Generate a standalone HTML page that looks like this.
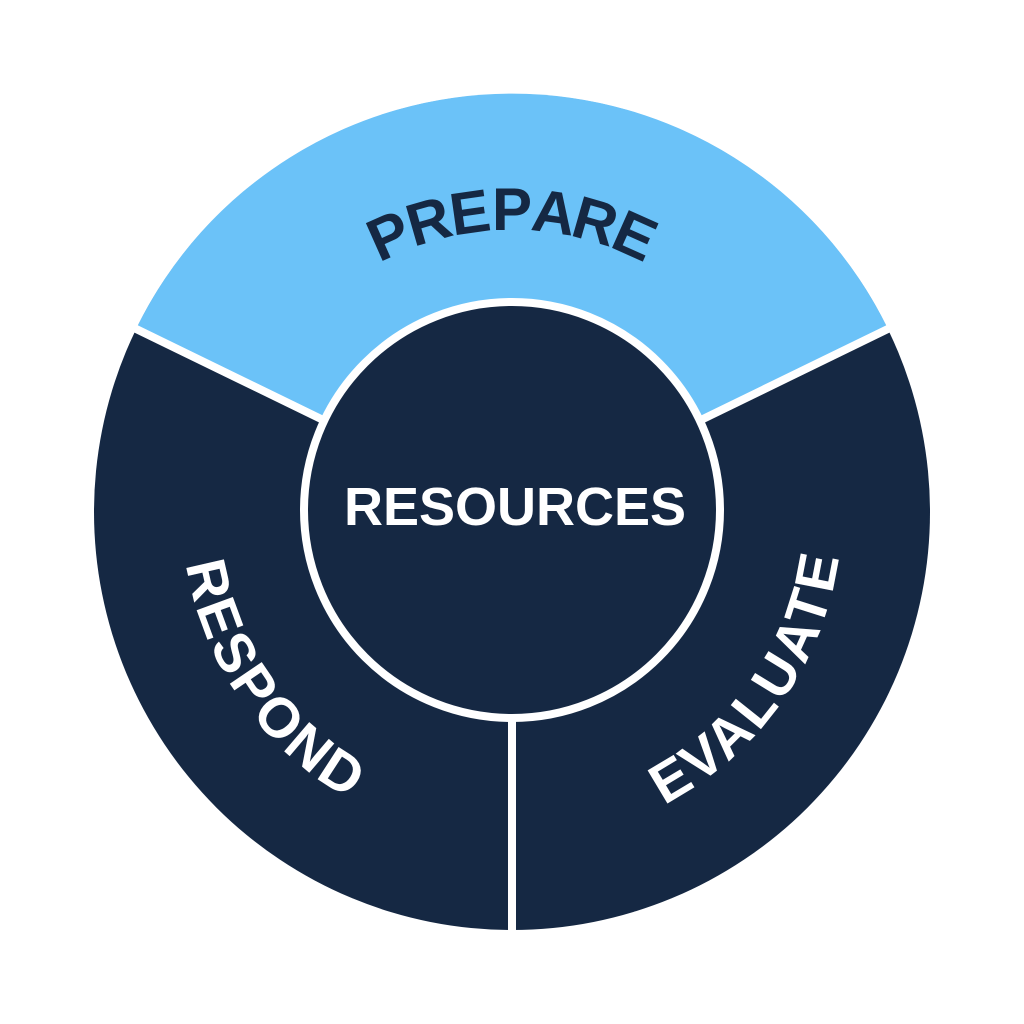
<!DOCTYPE html>
<html><head><meta charset="utf-8"><style>
html,body{margin:0;padding:0;background:#fff;}
svg{display:block;}
text{font-family:"Liberation Sans",sans-serif;font-weight:bold;}
</style></head><body>
<svg width="1024" height="1024" viewBox="0 0 1024 1024" xmlns="http://www.w3.org/2000/svg">
<rect width="1024" height="1024" fill="#fff"/>
<circle cx="512" cy="512" r="418" fill="#152843"/>
<path d="M512 512 L136 329 A418 418 0 0 1 888 329 Z" fill="#6BC2F8"/>
<line x1="512" y1="512" x2="128" y2="325" stroke="#fff" stroke-width="8"/>
<line x1="512" y1="512" x2="896" y2="325" stroke="#fff" stroke-width="8"/>
<line x1="512" y1="512" x2="512" y2="935" stroke="#fff" stroke-width="8"/>
<circle cx="512" cy="510" r="208" fill="#152843" stroke="#fff" stroke-width="8"/>
<defs>
<path id="pLeft" d="M202 399 A330 330 0 0 0 512 842"/>
<path id="pRight" d="M512 842 A330 330 0 0 0 822 399"/>
</defs>
<g font-size="60" fill="#152843" text-anchor="middle">
<text x="512" y="230" transform="rotate(-24 512 512)">P</text>
<text x="512" y="230" transform="rotate(-16 512 512)">R</text>
<text x="512" y="230" transform="rotate(-8 512 512)">E</text>
<text x="512" y="230" transform="rotate(0 512 512)">P</text>
<text x="512" y="230" transform="rotate(8 512 512)">A</text>
<text x="512" y="230" transform="rotate(16 512 512)">R</text>
<text x="512" y="230" transform="rotate(24 512 512)">E</text>
</g>
<text font-size="56" fill="#fff" letter-spacing="3"><textPath href="#pLeft" startOffset="50%" text-anchor="middle">RESPOND</textPath></text>
<text font-size="56" fill="#fff" letter-spacing="3"><textPath href="#pRight" startOffset="50%" text-anchor="middle">EVALUATE</textPath></text>
<text x="515" y="525" font-size="54" fill="#fff" text-anchor="middle">RESOURCES</text>
</svg>
</body></html>
